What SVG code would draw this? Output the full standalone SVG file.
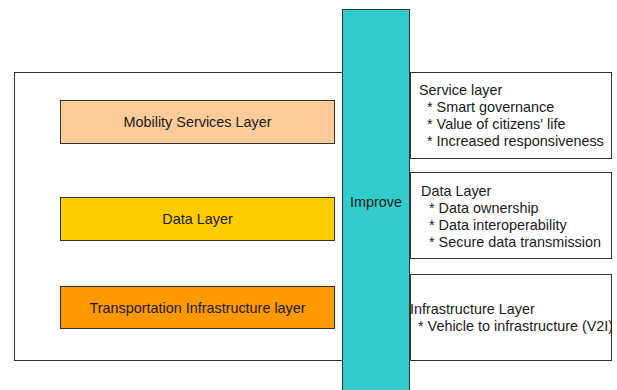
<svg xmlns="http://www.w3.org/2000/svg" width="617" height="390" viewBox="0 0 617 390">
  <style>
    .box { stroke: #333; stroke-width: 1; }
    .lbl { font-family: "Liberation Sans", Arial, sans-serif; font-size: 14.4px; fill: #1a1a1a; }
    .mid { text-anchor: middle; }
  </style>
  <defs>
    <clipPath id="infra-clip"><rect x="405" y="274" width="207" height="87"/></clipPath>
  </defs>
  <rect width="617" height="390" fill="#fff"/>

  <!-- container frame -->
  <g id="frame">
    <rect class="box" x="14.5" y="72.5" width="360" height="288" fill="#fff"/>
  </g>

  <!-- layer stack -->
  <g id="mobility-services">
    <rect class="box" x="60.5" y="100.5" width="274" height="43" fill="#FFCC99"/>
    <text class="lbl mid" x="197.5" y="127">Mobility Services Layer</text>
  </g>
  <g id="data-layer">
    <rect class="box" x="60.5" y="197.5" width="274" height="43" fill="#FFCC00"/>
    <text class="lbl mid" x="197.5" y="224">Data Layer</text>
  </g>
  <g id="transport-infrastructure">
    <rect class="box" x="60.5" y="286.5" width="274" height="42" fill="#FF9900"/>
    <text class="lbl mid" x="197.5" y="313">Transportation Infrastructure layer</text>
  </g>

  <!-- improvement bar -->
  <g id="improve">
    <rect class="box" x="342.5" y="9.5" width="67" height="395" fill="#33CCCC"/>
    <text class="lbl mid" x="376" y="207">Improve</text>
  </g>

  <!-- benefit notes -->
  <g id="service-notes">
    <rect class="box" x="410.5" y="72.5" width="201" height="86" fill="#fff"/>
    <text class="lbl" x="419" y="95">Service layer</text>
    <text class="lbl" x="427" y="112">* Smart governance</text>
    <text class="lbl" x="427" y="129">* Value of citizens' life</text>
    <text class="lbl" x="427" y="146">* Increased responsiveness</text>
  </g>
  <g id="data-notes">
    <rect class="box" x="410.5" y="172.5" width="201" height="86" fill="#fff"/>
    <text class="lbl" x="421" y="196">Data Layer</text>
    <text class="lbl" x="429" y="213">* Data ownership</text>
    <text class="lbl" x="429" y="230">* Data interoperability</text>
    <text class="lbl" x="429" y="247">* Secure data transmission</text>
  </g>
  <g id="infrastructure-notes">
    <rect class="box" x="410.5" y="274.5" width="201" height="86" fill="#fff"/>
    <g clip-path="url(#infra-clip)">
      <text class="lbl" x="410" y="314">Infrastructure Layer</text>
      <text class="lbl" x="418" y="331">* Vehicle to infrastructure (V2I)</text>
    </g>
  </g>

  <g id="connectors"/>
</svg>
